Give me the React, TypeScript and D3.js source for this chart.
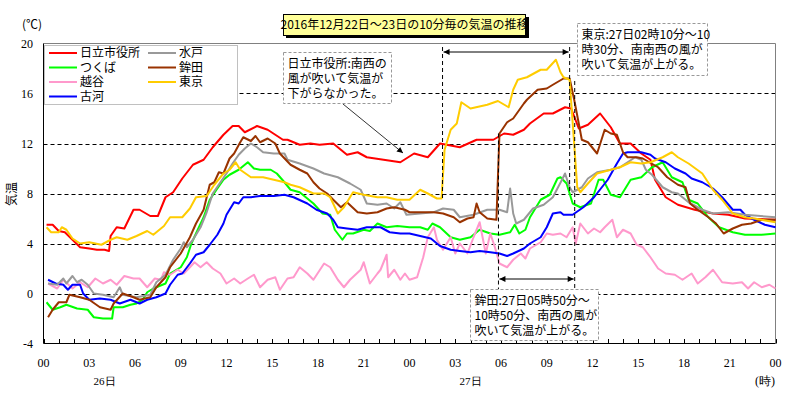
import React from 'react';
import * as d3 from 'd3';

// ---- data: [hour since 26日00時, ℃] ----
const hitachi: [number, number][] = [[0.2,5.5],[0.6,5.5],[1.0,5.0],[1.4,4.9],[1.9,4.3],[2.4,3.7],[3.0,3.6],[3.5,3.5],[4.0,3.5],[4.3,3.4],[4.4,4.6],[4.8,5.3],[5.3,5.2],[5.9,6.7],[6.3,6.7],[7.0,6.2],[7.5,6.2],[8.0,7.7],[8.5,8.1],[9.1,9.2],[9.8,10.3],[10.5,10.7],[11.1,11.7],[11.8,12.7],[12.4,13.4],[12.8,13.4],[13.2,12.9],[14.0,13.4],[14.7,13.1],[15.7,12.3],[16.0,12.3],[16.8,11.9],[17.5,12.0],[18.1,11.9],[19.0,12.0],[19.9,11.1],[20.6,11.3],[21.2,10.9],[22.3,10.7],[23.4,10.5],[24.3,11.2],[25.2,10.9],[26.0,12.0],[27.3,11.7],[28.4,12.3],[29.5,12.3],[30.2,12.8],[30.8,12.7],[31.5,13.1],[31.9,13.6],[32.8,14.4],[33.4,14.4],[34.2,14.9],[34.6,14.8],[35.1,13.2],[35.7,13.5],[36.5,14.4],[37.2,13.3],[37.8,12.0],[38.5,12.0],[39.2,11.2],[39.8,10.7],[40.1,9.1],[40.8,7.7],[41.6,7.1],[42.7,6.7],[43.9,6.4],[44.9,6.3],[46.0,6.0],[48,5.9]];
const tsukuba: [number, number][] = [[0.2,-0.7],[0.6,-1.3],[1.1,-1.1],[1.5,-0.9],[2.2,-1.2],[2.9,-1.3],[3.3,-1.9],[3.9,-2.0],[4.5,-2.0],[4.6,-1.1],[5.2,-1.1],[5.7,-0.9],[6.1,-0.8],[6.5,-0.5],[6.8,0.1],[7.2,0.4],[8.0,0.8],[8.3,1.6],[9.0,2.1],[9.4,2.9],[9.7,4.0],[10.0,4.8],[10.5,6.1],[10.9,7.5],[11.4,8.4],[11.8,9.1],[12.2,9.5],[12.8,9.9],[13.4,10.5],[13.8,10.0],[14.2,9.9],[14.9,9.9],[15.3,9.6],[15.8,8.9],[16.2,8.3],[16.8,8.1],[17.7,7.2],[18.3,6.4],[18.8,6.3],[19.1,5.1],[19.6,4.3],[19.9,4.8],[20.3,4.8],[21.0,5.1],[21.4,5.0],[21.9,5.6],[22.5,5.3],[23.2,5.4],[24.0,5.3],[24.7,5.3],[25.2,5.1],[25.5,5.6],[26.0,5.3],[26.7,4.5],[27.3,4.3],[28.0,4.5],[28.6,5.1],[29.3,4.8],[29.9,4.7],[30.6,4.9],[30.9,5.5],[31.2,4.8],[31.6,5.1],[31.9,6.1],[32.6,7.5],[33.2,7.9],[33.7,9.2],[33.9,9.3],[34.3,8.8],[34.7,7.2],[35.2,6.9],[35.9,7.2],[36.4,9.1],[36.7,9.1],[37.2,7.9],[37.8,7.7],[38.5,9.1],[39.2,9.3],[39.9,10.1],[40.6,10.5],[41.2,9.3],[41.9,8.9],[42.3,7.5],[42.9,7.2],[43.6,6.1],[44.3,5.3],[45.2,4.9],[46.0,4.7],[47.1,4.7],[48,4.8]];
const koshigaya: [number, number][] = [[0.3,0.8],[0.9,0.4],[1.3,1.1],[1.9,0.4],[2.4,0.9],[2.9,0.5],[3.4,1.2],[3.9,0.8],[4.4,1.1],[4.8,0.7],[5.3,1.4],[5.9,1.2],[6.3,1.2],[6.8,0.5],[7.3,1.2],[7.7,1.1],[7.9,1.7],[8.3,1.5],[8.8,1.9],[9.2,1.6],[9.6,2.1],[9.9,2.5],[10.3,2.1],[10.7,2.5],[11.1,2.0],[11.6,1.6],[12.0,0.8],[12.5,1.2],[12.9,0.8],[13.4,1.2],[13.8,1.5],[14.2,0.5],[14.7,1.1],[15.2,1.3],[15.5,0.3],[16.0,1.2],[16.4,1.3],[16.8,2.1],[17.3,1.6],[17.7,1.1],[18.4,2.4],[18.8,2.1],[19.3,1.1],[19.7,0.5],[20.1,1.1],[20.8,1.9],[21.0,2.5],[21.4,0.8],[21.9,1.6],[22.1,1.9],[22.5,3.1],[22.6,1.3],[23.0,1.9],[23.4,1.1],[23.7,1.6],[24.0,1.1],[24.5,1.3],[24.9,2.9],[25.2,4.5],[25.6,5.3],[25.8,4.3],[26.2,3.5],[26.7,4.5],[27.0,3.2],[27.3,4.0],[27.8,3.2],[28.2,4.5],[28.6,5.7],[29.0,3.2],[29.3,4.8],[29.6,3.7],[29.9,2.4],[30.4,2.1],[30.8,2.7],[31.3,3.2],[31.6,2.8],[31.9,3.6],[32.6,4.1],[33.0,4.8],[33.4,4.7],[33.9,4.8],[34.3,4.5],[34.7,5.3],[34.9,4.0],[35.2,5.6],[35.7,4.8],[36.1,5.2],[36.5,4.9],[36.8,5.3],[37.3,5.9],[37.6,4.5],[38.0,5.1],[38.5,4.8],[38.9,3.9],[39.3,3.7],[39.8,2.9],[40.3,2.0],[40.8,1.6],[41.4,1.5],[41.9,1.1],[42.5,1.6],[42.9,0.8],[43.4,1.3],[43.9,1.9],[44.5,0.9],[45.2,0.8],[45.8,0.9],[46.2,0.4],[46.6,0.9],[47.1,0.5],[47.6,0.7],[48,0.4]];
const koga: [number, number][] = [[0.3,1.1],[0.8,0.8],[1.3,0.7],[1.6,0.3],[1.9,0.7],[2.4,0.7],[2.6,0.0],[3.0,-0.5],[3.7,-0.4],[4.4,-0.5],[5.0,-0.8],[5.7,-0.5],[6.3,-0.8],[6.8,-0.5],[7.4,-0.3],[8.0,0.0],[8.3,0.7],[8.8,1.5],[9.1,1.6],[9.6,2.4],[10.0,3.1],[10.5,3.3],[10.9,3.9],[11.4,4.7],[11.8,5.6],[12.0,6.3],[12.2,6.7],[12.5,7.3],[12.8,7.2],[13.1,7.7],[13.6,7.7],[14.2,7.8],[15.1,7.8],[15.8,7.9],[16.4,7.7],[17.3,7.2],[17.9,6.7],[18.6,6.4],[19.0,5.9],[19.3,5.3],[19.9,5.2],[20.6,5.1],[21.2,5.3],[22.1,5.3],[22.7,4.9],[23.4,4.8],[24.0,4.8],[24.7,4.6],[25.4,4.4],[26.0,3.8],[26.7,3.5],[27.3,3.4],[28.0,3.3],[28.6,3.4],[29.3,3.3],[29.9,3.2],[30.4,3.0],[30.8,3.2],[31.5,3.6],[31.9,4.0],[32.6,4.5],[33.0,5.3],[33.4,6.4],[33.9,6.5],[34.1,6.3],[34.7,6.3],[35.4,6.9],[36.1,7.7],[37.0,9.1],[37.6,10.4],[38.0,11.2],[38.3,11.3],[39.2,11.3],[39.8,11.1],[40.1,10.8],[40.8,10.5],[41.4,10.0],[42.1,9.6],[42.5,9.2],[43.2,8.9],[43.9,8.4],[44.5,7.7],[45.2,6.7],[45.7,6.7],[46.0,6.3],[46.6,5.9],[47.3,5.5],[48,5.3]];
const mito: [number, number][] = [[0.3,0.8],[0.9,0.7],[1.3,1.2],[1.5,0.8],[1.9,1.4],[2.2,0.9],[2.5,1.1],[2.9,0.7],[3.3,0.0],[3.9,-0.1],[4.6,-0.3],[5.0,0.5],[5.2,-0.1],[6.1,-0.3],[7.0,-0.1],[7.4,0.9],[8.0,1.5],[8.5,2.7],[9.0,3.6],[9.2,4.1],[9.4,3.7],[9.8,4.3],[10.3,5.3],[10.7,6.5],[11.1,8.0],[11.6,8.9],[12.0,9.6],[12.4,10.4],[12.8,11.1],[13.2,11.6],[13.6,12.0],[14.0,11.7],[14.4,11.3],[15.1,11.2],[15.8,11.2],[16.0,10.7],[16.8,10.4],[17.7,10.0],[18.4,9.6],[19.3,9.3],[20.1,8.8],[20.8,8.3],[21.2,7.2],[21.9,7.1],[22.5,7.2],[23.0,6.8],[23.4,7.3],[23.8,6.3],[24.7,6.4],[25.6,6.5],[26.2,6.8],[26.9,6.7],[27.3,6.1],[28.2,6.3],[29.1,6.7],[29.9,6.7],[30.4,6.5],[30.6,8.4],[30.8,6.4],[31.0,5.6],[31.5,5.9],[32.1,6.8],[32.8,7.1],[33.4,7.7],[34.0,9.1],[34.2,9.6],[34.5,8.5],[34.7,8.1],[35.3,8.5],[35.7,9.2],[36.3,9.7],[37.2,9.9],[37.8,10.1],[38.3,10.5],[38.8,10.9],[39.2,10.7],[39.5,9.9],[39.9,9.5],[40.6,8.5],[41.2,8.1],[41.6,8.0],[42.3,7.3],[43.2,6.7],[43.9,6.4],[44.9,6.5],[46.0,6.3],[48,6.1]];
const hokota: [number, number][] = [[0.3,-1.9],[0.6,-1.3],[1.0,-0.7],[1.5,-0.7],[1.7,-0.1],[2.4,-0.3],[3.0,-0.5],[3.7,-1.1],[4.4,-1.3],[4.6,-0.8],[5.2,0.0],[5.9,-0.3],[6.3,-0.5],[7.0,-0.3],[7.4,0.5],[8.0,1.3],[8.3,2.1],[9.0,3.2],[9.6,4.5],[10.0,5.6],[10.5,6.7],[10.9,8.7],[11.2,8.9],[11.5,9.7],[11.8,9.6],[12.2,10.8],[12.5,11.2],[12.9,12.1],[13.1,12.5],[13.6,12.2],[13.9,12.6],[14.2,12.1],[14.7,12.4],[15.2,12.0],[15.5,11.2],[16.2,10.3],[16.8,9.9],[17.3,9.6],[17.7,8.9],[18.1,8.4],[18.6,8.0],[19.0,7.5],[19.5,6.9],[19.9,7.3],[20.6,6.5],[21.2,6.4],[21.9,6.5],[22.5,6.8],[23.0,6.9],[23.7,6.7],[24.0,6.5],[25.6,6.5],[26.2,6.4],[26.9,6.1],[27.3,5.7],[27.8,6.0],[28.2,6.1],[28.4,7.2],[28.6,6.5],[29.1,6.0],[29.7,5.9],[29.9,12.8],[30.4,13.7],[30.8,14.0],[31.5,15.2],[31.7,15.5],[32.4,16.3],[33.0,16.4],[33.4,16.7],[34.1,17.2],[34.5,17.2],[34.8,15.5],[35.1,13.6],[35.3,12.3],[35.7,12.1],[36.3,11.2],[36.8,13.1],[37.2,12.8],[37.6,12.7],[38.0,11.3],[38.3,10.9],[38.9,10.9],[39.3,10.8],[40.3,10.1],[40.9,9.3],[41.6,8.7],[42.1,8.5],[42.4,7.2],[42.9,6.7],[43.6,6.1],[44.1,5.6],[44.6,4.8],[45.2,5.2],[45.8,5.5],[46.4,5.6],[47.1,5.9],[48,5.9]];
const tokyo: [number, number][] = [[0.2,5.3],[0.5,4.9],[1.0,4.9],[1.2,5.3],[1.5,5.1],[1.9,4.4],[2.4,4.0],[3.0,4.1],[3.8,3.9],[4.4,4.3],[4.8,4.5],[5.5,4.3],[6.1,4.6],[6.8,5.0],[7.2,4.7],[7.9,5.4],[8.3,6.1],[9.1,6.1],[9.6,6.8],[10.0,7.7],[10.7,7.8],[11.2,8.7],[11.8,9.6],[12.2,9.9],[12.6,10.5],[12.9,9.9],[13.6,9.3],[14.4,9.3],[15.1,9.1],[15.8,8.9],[16.2,8.7],[16.8,8.5],[17.7,8.0],[18.4,8.0],[18.8,7.7],[19.3,6.4],[19.7,6.9],[20.3,8.1],[21.0,7.9],[21.9,7.7],[22.5,7.7],[23.2,7.5],[24.0,7.5],[24.7,8.3],[25.2,8.0],[25.8,7.6],[26.1,7.6],[26.3,11.5],[26.7,13.1],[27.1,13.6],[27.4,15.3],[28.0,14.8],[29.1,15.1],[29.8,15.4],[30.5,14.9],[30.8,16.3],[31.1,17.1],[31.7,17.3],[32.6,17.9],[33.0,17.9],[33.6,18.7],[33.9,17.7],[34.1,17.3],[34.5,17.1],[35.0,8.5],[35.2,8.1],[35.7,8.8],[36.3,9.6],[37.2,9.9],[37.8,10.1],[38.5,10.5],[39.2,10.4],[39.8,10.5],[40.6,10.9],[41.2,11.3],[41.6,10.9],[42.3,10.4],[43.2,9.6],[43.9,8.3],[44.5,7.5],[45.2,6.4],[46.0,6.1],[46.6,6.0],[48,5.7]];

const seriesNames = ['日立市役所', 'つくば', '越谷', '古河', '水戸', '鉾田', '東京'];
const seriesColors = ['#ff0000', '#00ff00', '#ff99cc', '#0000ff', '#999999', '#993300', '#ffcc00'];
const seriesData = [hitachi, tsukuba, koshigaya, koga, mito, hokota, tokyo];

const xTickLabels = ['00','03','06','09','12','15','18','21','00','03','06','09','12','15','18','21','00'];
const yTicks = [-4, 0, 4, 8, 12, 16, 20];
const gridTemps = [0, 4, 8, 12, 16];

// event times (hours since 26日00時)
const tokyoStart = 26 + 10 / 60 + 0.0;   // 27日02時10分
const tokyoEnd = 24 + 10.5;             // 27日10時30分
const hokotaStart = 24 + 5 + 50 / 60;   // 27日05時50分
const hokotaEnd = 24 + 10 + 50 / 60;    // 27日10時50分

const JP = '"Noto Sans CJK JP", "Noto Sans", sans-serif';
const SERIF = '"Liberation Serif", "DejaVu Serif", serif';

export default function App() {
  const x = d3.scaleLinear().domain([0, 48]).range([43.5, 775.5]);
  const y = d3.scaleLinear().domain([-4, 20]).range([343.5, 43.5]);
  const line = d3.line<[number, number]>().x(d => x(d[0])).y(d => y(d[1]));
  const hours = d3.range(0, 49);

  const boxes = [
    { x: 283.5, y: 52.5, w: 108, h: 51, lines: ['日立市役所:南西の', '風が吹いて気温が', '下がらなかった。'] },
    { x: 577.5, y: 23.5, w: 130, h: 52, lines: ['東京:27日02時10分～10', '時30分、南南西の風が', '吹いて気温が上がる。'] },
    { x: 470.5, y: 289.5, w: 128, h: 51, lines: ['鉾田:27日05時50分～', '10時50分、南西の風が', '吹いて気温が上がる。'] },
  ];

  return (
    <svg width={800} height={400} style={{ display: 'block', position: 'absolute', left: 0, top: 0, background: '#fff' }}>
      <defs>
        <marker id="ah" viewBox="0 0 10 10" refX="10" refY="5" markerWidth="9" markerHeight="6" orient="auto-start-reverse" markerUnits="userSpaceOnUse">
          <path d="M0,0 L10,5 L0,10 z" fill="#000" />
        </marker>
      </defs>
      <rect x={0} y={0} width={800} height={400} fill="#fff" />

      {/* grid */}
      {gridTemps.map(t => (
        <line key={t} x1={x(0)} x2={x(48)} y1={Math.round(y(t)) + 0.5} y2={Math.round(y(t)) + 0.5} stroke="#000" strokeDasharray="4,3" strokeWidth={1} />
      ))}
      {/* frame */}
      <line x1={x(0)} x2={x(48)} y1={43.5} y2={43.5} stroke="#808080" />
      <line x1={775.5} x2={775.5} y1={43.5} y2={343.5} stroke="#808080" />
      <line x1={43.5} x2={43.5} y1={43.5} y2={343.5} stroke="#000" />
      <line x1={43.5} x2={775.5} y1={343.5} y2={343.5} stroke="#000" />
      {hours.map(h => (
        <line key={h} x1={Math.round(x(h)) + 0.5} x2={Math.round(x(h)) + 0.5} y1={343.5} y2={339} stroke="#000" />
      ))}

      {/* y labels */}
      {yTicks.map(t => (
        <text key={t} x={33} y={y(t)} dy="0.35em" textAnchor="end" fontFamily={SERIF} fontSize={12}>{t}</text>
      ))}
      <text x={22} y={29} fontFamily={JP} fontSize={12}>(℃)</text>
      <text transform={`translate(16,194) rotate(-90)`} textAnchor="middle" fontFamily={JP} fontSize={12}>気温</text>

      {/* x labels */}
      {xTickLabels.map((s, i) => (
        <text key={i} x={x(i * 3)} y={367} textAnchor="middle" fontFamily={SERIF} fontSize={12}>{s}</text>
      ))}
      <text x={x(4)} y={385} textAnchor="middle" fontFamily={SERIF} fontSize={11}>26日</text>
      <text x={x(28)} y={385} textAnchor="middle" fontFamily={SERIF} fontSize={11}>27日</text>
      <text x={765} y={385} textAnchor="middle" fontFamily={SERIF} fontSize={12}>(時)</text>

      {/* series */}
      {seriesData.map((d, i) => (
        <path key={i} d={line(d) || ''} fill="none" stroke={seriesColors[i]} strokeWidth={2} strokeLinejoin="round" />
      ))}

      {/* event lines */}
      <line x1={x(tokyoStart)} x2={x(tokyoStart)} y1={47} y2={y(7.6)} stroke="#000" strokeDasharray="4,3" />
      <line x1={x(tokyoEnd)} x2={x(tokyoEnd)} y1={47} y2={y(8.2)} stroke="#000" strokeDasharray="4,3" />
      <line x1={x(tokyoStart) + 1} x2={x(tokyoEnd) - 1} y1={52} y2={52} stroke="#000" markerStart="url(#ah)" markerEnd="url(#ah)" />
      <line x1={x(hokotaStart)} x2={x(hokotaStart)} y1={y(12.8)} y2={289} stroke="#000" strokeDasharray="4,3" />
      <line x1={x(hokotaEnd)} x2={x(hokotaEnd)} y1={y(17)} y2={289} stroke="#000" strokeDasharray="4,3" />
      <line x1={x(hokotaStart) + 1} x2={x(hokotaEnd) - 1} y1={279} y2={279} stroke="#000" markerStart="url(#ah)" markerEnd="url(#ah)" />
      <line x1={343} y1={104} x2={403} y2={153} stroke="#000" strokeWidth={0.8} markerEnd="url(#ah)" />

      {/* annotation boxes */}
      {boxes.map((b, i) => (
        <g key={i}>
          <rect x={b.x} y={b.y} width={b.w} height={b.h} fill="#fff" stroke="#999" strokeDasharray="3,2" />
          {b.lines.map((l, j) => (
            <text key={j} x={b.x + 4} y={b.y + 15 + j * 15} fontFamily={JP} fontSize={12}>{l}</text>
          ))}
        </g>
      ))}

      {/* title */}
      <rect x={286} y={17} width={243} height={21} fill="#000" />
      <rect x={283.5} y={14.5} width={242} height={21} fill="#ffff99" stroke="#000" />
      <text x={404.5} y={29} textAnchor="middle" fontFamily={JP} fontSize={12}>2016年12月22日～23日の10分毎の気温の推移</text>

      {/* legend */}
      <rect x={44.5} y={45.5} width={193} height={59} fill="#fff" stroke="#c0c0c0" />
      {seriesNames.map((n, i) => {
        const col = i < 4 ? 0 : 1;
        const row = i < 4 ? i : i - 4;
        const lx = col === 0 ? 49 : 148;
        const ly = 53 + row * 14.5;
        return (
          <g key={n}>
            <line x1={lx} x2={lx + 28} y1={ly} y2={ly} stroke={seriesColors[i]} strokeWidth={2} />
            <text x={lx + 31} y={ly} dy="0.35em" fontFamily={JP} fontSize={12}>{n}</text>
          </g>
        );
      })}
    </svg>
  );
}
